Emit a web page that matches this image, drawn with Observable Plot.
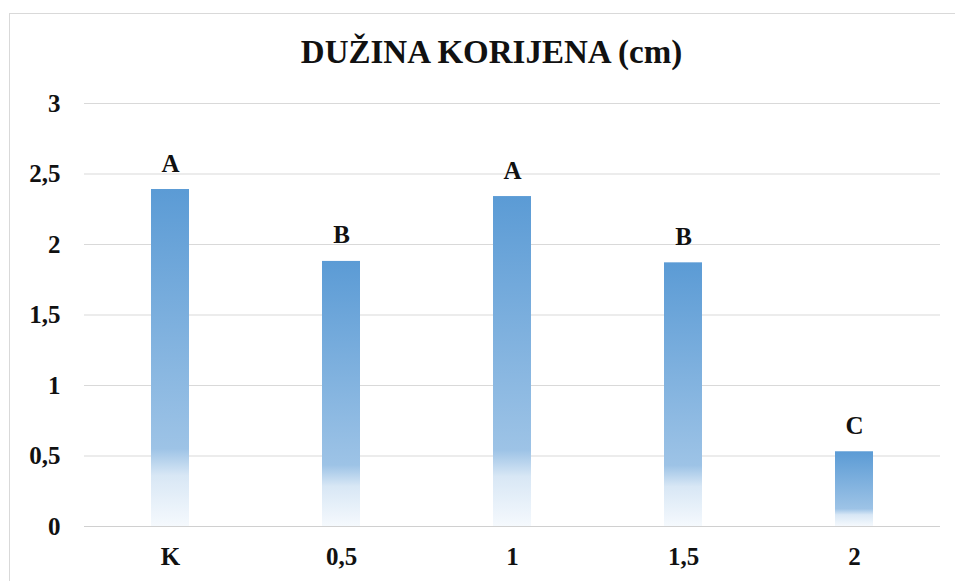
<!DOCTYPE html>
<html>
<head>
<meta charset="utf-8">
<script src="https://cdn.jsdelivr.net/npm/d3@7"></script>
<script src="https://cdn.jsdelivr.net/npm/@observablehq/plot@0.6"></script>
<style>
  html, body { margin: 0; padding: 0; background: #fff; }
  #wrap { position: relative; width: 955px; height: 581px; overflow: hidden; }
  #border { position: absolute; left: 9px; top: 13px; width: 1000px; height: 1000px; border: 1px solid #d9d9d9; box-sizing: border-box; }
  #title { position: absolute; left: 0; width: 983px; top: 36px; text-align: center;
    font-family: 'Liberation Serif', 'Times New Roman', serif; font-weight: bold; font-size: 33px; line-height: 33px; color: #111; }
  #chart { position: absolute; left: 0; top: 0; }
</style>
</head>
<body>
<div id="wrap">
  <div id="border"></div>
  <div id="title">DUŽINA KORIJENA (cm)</div>
  <div id="chart"></div>
</div>
<script>
const categories = ["K", "0,5", "1", "1,5", "2"];
const values = [2.39, 1.88, 2.34, 1.87, 0.53];
const letters = ["A", "B", "A", "B", "C"];
const yTicks = [0, 0.5, 1, 1.5, 2, 2.5, 3];

const data = categories.map((c, i) => ({cat: c, value: values[i], letter: letters[i]}));
const font = "Liberation Serif, Times New Roman, serif";

const plot = Plot.plot({
  width: 955,
  height: 581,
  marginLeft: 84,
  marginRight: 15,
  marginTop: 103,
  marginBottom: 55,
  style: {fontFamily: font, fontWeight: "bold", fontSize: "25px", color: "#111", background: "transparent"},
  x: {domain: categories, paddingInner: 0.778, paddingOuter: 0.389, label: null},
  y: {domain: [0, 3], label: null},
  marks: [
    Plot.gridY(yTicks, {stroke: "#d9d9d9", strokeOpacity: 1, strokeWidth: 1}),
    Plot.barY(data, {x: "cat", y: "value", fill: "url(#barGrad)"}),
    Plot.ruleY([0], {stroke: "#d0d0d0", strokeWidth: 1.2}),
    Plot.text(data, {x: "cat", y: "value", text: "letter", dy: -26, fill: "#111", fontWeight: "bold", fontSize: 25, fontFamily: font}),
    Plot.axisY({ticks: yTicks, tickSize: 0, tickPadding: 24, tickFormat: d => String(d).replace(".", ","), fontSize: 25, fontWeight: "bold", fontFamily: font}),
    Plot.axisX({tickSize: 0, tickPadding: 21, fontSize: 25, fontWeight: "bold", fontFamily: font})
  ]
});

const ns = "http://www.w3.org/2000/svg";
const defs = document.createElementNS(ns, "defs");
const grad = document.createElementNS(ns, "linearGradient");
grad.setAttribute("id", "barGrad");
grad.setAttribute("x1", "0"); grad.setAttribute("y1", "0");
grad.setAttribute("x2", "0"); grad.setAttribute("y2", "1");
[[0, "#5b9bd5"], [0.77, "#9dc3e6"], [0.85, "#d8e7f5"], [1, "#f5f9fd"]].forEach(([o, c]) => {
  const s = document.createElementNS(ns, "stop");
  s.setAttribute("offset", o);
  s.setAttribute("stop-color", c);
  grad.appendChild(s);
});
defs.appendChild(grad);
plot.insertBefore(defs, plot.firstChild);

document.getElementById("chart").appendChild(plot);
</script>
</body>
</html>
